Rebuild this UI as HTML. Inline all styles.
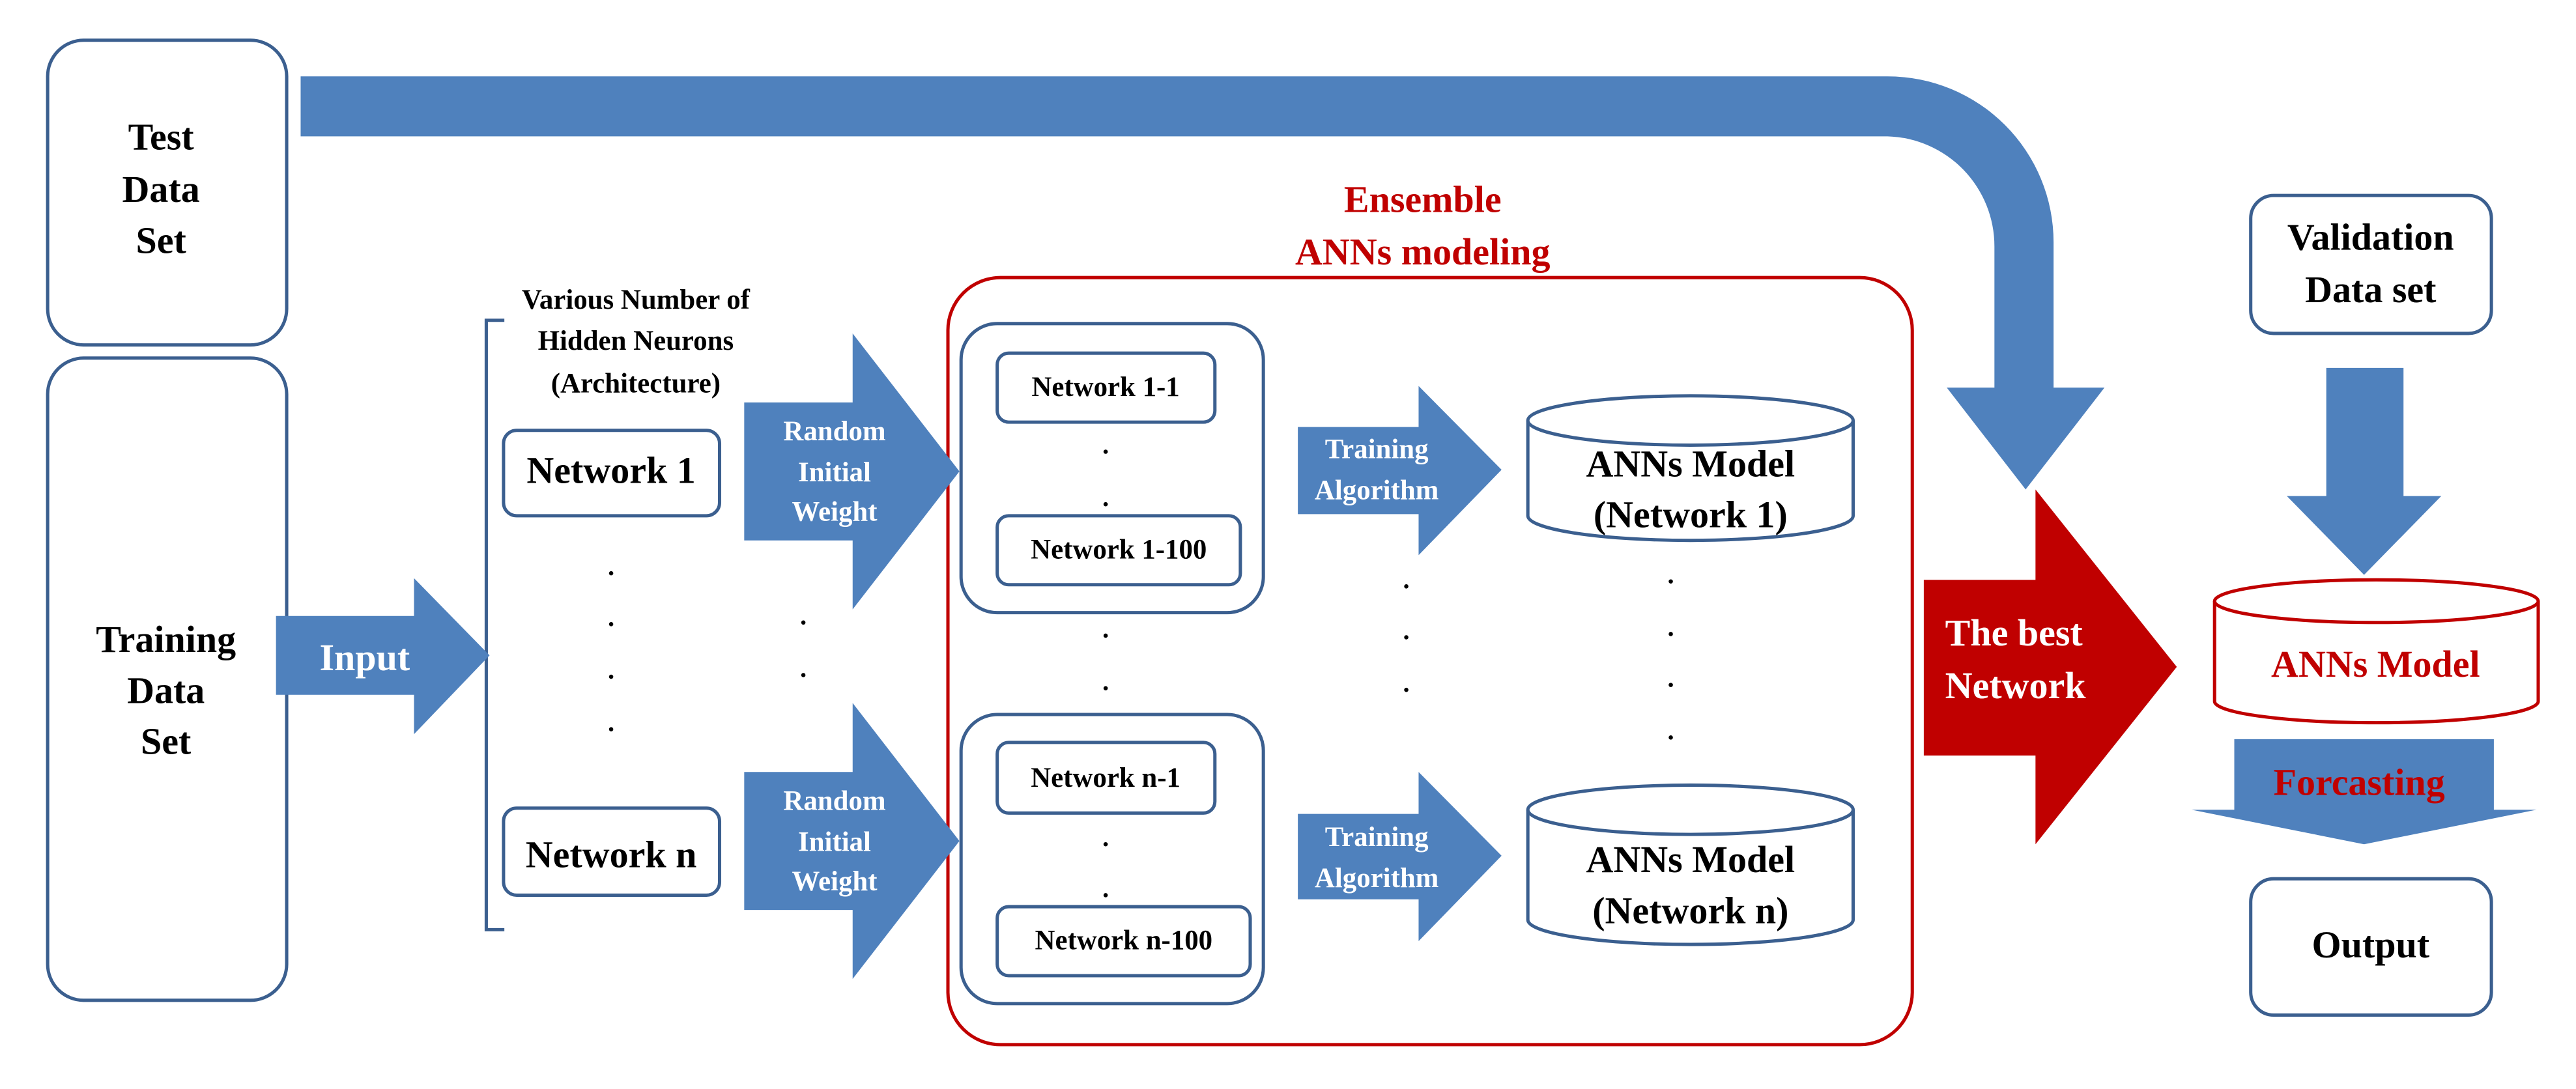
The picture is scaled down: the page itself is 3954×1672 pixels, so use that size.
<!DOCTYPE html>
<html><head><meta charset="utf-8"><style>
html,body{margin:0;padding:0;background:#fff;}
svg{display:block;}
text{font-family:"Liberation Serif",serif;font-weight:bold;}
</style></head><body>
<svg width="3954" height="1672" viewBox="0 0 1568 663" preserveAspectRatio="none" xmlns="http://www.w3.org/2000/svg">
<rect width="1568" height="663" fill="#fff"/>
<g fill="none" stroke="#3b5f8f" stroke-width="2">
<rect x="29" y="24.5" width="145.5" height="185.5" rx="22"/>
<rect x="29" y="218" width="145.5" height="391" rx="22"/>
<rect x="306.5" y="262" width="131.5" height="52" rx="8"/>
<rect x="306.5" y="492" width="131.5" height="53" rx="8"/>
<rect x="585" y="197" width="184" height="176" rx="22"/>
<rect x="585" y="435" width="184" height="176" rx="22"/>
<rect x="607" y="215" width="132.5" height="42" rx="7"/>
<rect x="607" y="314" width="148" height="42" rx="7"/>
<rect x="607" y="452" width="132.5" height="43" rx="7"/>
<rect x="607" y="552" width="154" height="42" rx="7"/>
<rect x="1370" y="119" width="146.5" height="84" rx="14"/>
<rect x="1370" y="535" width="146.5" height="83" rx="14"/>
<path d="M307 195 H296 V566 H307"/>
<path d="M930 256 V314 A99 15 0 0 0 1128 314 V256"/><ellipse cx="1029" cy="256" rx="99" ry="15" fill="#fff"/>
<path d="M930 493 V560 A99 15 0 0 0 1128 560 V493"/><ellipse cx="1029" cy="493" rx="99" ry="15" fill="#fff"/>
</g>
<g fill="none" stroke="#c00000" stroke-width="2">
<rect x="577" y="169" width="587" height="467" rx="32"/>
<path d="M1348 366 V427 A98.5 13 0 0 0 1545 427 V366"/><ellipse cx="1446.5" cy="366" rx="98.5" ry="13"/>
</g>
<g fill="#4f81bd">
<path d="M183 46.5 H1149 A101 101 0 0 1 1250 147.5 V236 H1281 L1233 298 L1185 236 H1214 V150 A67 67 0 0 0 1149 83 H183 Z"/>
<path d="M168 375 H252 V352 L298 399 L252 447 V423 H168 Z"/>
<path d="M453 245 H519 V203 L584 287 L519 371 V329 H453 Z"/>
<path d="M453 470 H519 V428 L584 512 L519 596 V554 H453 Z"/>
<path d="M790 260 H863.5 V235 L914 286 L863.5 338 V313 H790 Z"/>
<path d="M790 495.5 H863.5 V470 L914 521 L863.5 573 V547.5 H790 Z"/>
<path d="M1416 224 H1463 V302 H1486 L1439 350 L1392 302 H1416 Z"/>
<path d="M1360 450 H1518 V493 H1544 L1439 514 L1334 493 H1360 Z"/>
</g>
<path fill="#c00000" d="M1171 353 H1239 V298 L1325 406 L1239 514 V460 H1171 Z"/>
<g font-size="23" text-anchor="middle" fill="#000">
<text x="98" y="91">Test</text><text x="98" y="123">Data</text><text x="98" y="154">Set</text>
<text x="101" y="397">Training</text><text x="101" y="428">Data</text><text x="101" y="459">Set</text>
<text x="372" y="294">Network 1</text><text x="372" y="528">Network n</text>
<text x="1029" y="290">ANNs Model</text><text x="1029" y="321">(Network 1)</text>
<text x="1029" y="531">ANNs Model</text><text x="1029" y="562">(Network n)</text>
<text x="1443" y="152">Validation</text><text x="1443" y="184">Data set</text>
<text x="1443" y="583">Output</text>
</g>
<g font-size="17" text-anchor="middle" fill="#000">
<text x="387" y="188">Various Number of</text><text x="387" y="213">Hidden Neurons</text><text x="387" y="239">(Architecture)</text>
<text x="673" y="241">Network 1-1</text><text x="681" y="340">Network 1-100</text>
<text x="673" y="479">Network n-1</text><text x="684" y="578">Network n-100</text>
</g>
<g font-size="17" text-anchor="middle" fill="#fff">
<text x="508" y="268">Random</text><text x="508" y="293">Initial</text><text x="508" y="317">Weight</text>
<text x="508" y="493">Random</text><text x="508" y="518">Initial</text><text x="508" y="542">Weight</text>
<text x="838" y="279">Training</text><text x="838" y="304">Algorithm</text>
<text x="838" y="515">Training</text><text x="838" y="540">Algorithm</text>
</g>
<g font-size="23" fill="#fff">
<text x="222" y="408" text-anchor="middle">Input</text>
<text x="1184" y="393">The best</text><text x="1184" y="425">Network</text>
</g>
<g font-size="23" text-anchor="middle" fill="#c00000">
<text x="866" y="129">Ensemble</text><text x="866" y="161">ANNs modeling</text>
<text x="1446" y="412">ANNs Model</text><text x="1436" y="484">Forcasting</text>
</g>
<g fill="#000">
<circle cx="372" cy="349" r="1.3"/><circle cx="372" cy="380" r="1.3"/><circle cx="372" cy="412" r="1.3"/><circle cx="372" cy="444" r="1.3"/>
<circle cx="489" cy="379" r="1.3"/><circle cx="489" cy="411" r="1.3"/>
<circle cx="673" cy="275" r="1.3"/><circle cx="673" cy="307" r="1.3"/>
<circle cx="673" cy="387" r="1.3"/><circle cx="673" cy="419" r="1.3"/>
<circle cx="673" cy="514" r="1.3"/><circle cx="673" cy="545" r="1.3"/>
<circle cx="856" cy="357" r="1.3"/><circle cx="856" cy="388" r="1.3"/><circle cx="856" cy="420" r="1.3"/>
<circle cx="1017" cy="354" r="1.3"/><circle cx="1017" cy="386" r="1.3"/><circle cx="1017" cy="417" r="1.3"/><circle cx="1017" cy="449" r="1.3"/>
</g>
</svg>
</body></html>
